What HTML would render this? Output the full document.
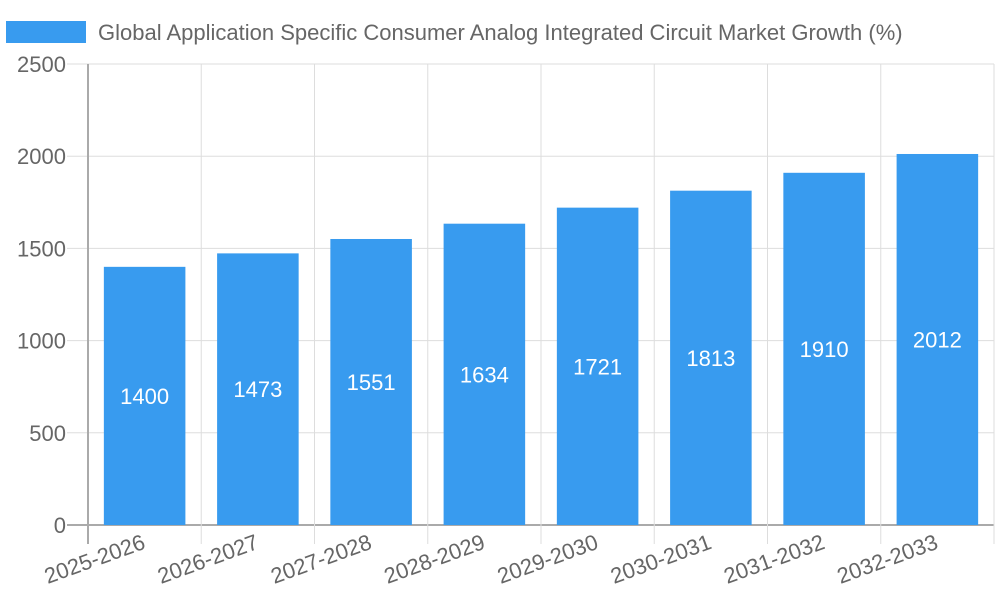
<!DOCTYPE html>
<html><head><meta charset="utf-8"><style>body{margin:0;background:#fff}svg{font-family:"Liberation Sans",sans-serif}</style></head>
<body>
<svg id="c" width="1000" height="600">
<rect x="6" y="21" width="80" height="22" fill="#389bef"/>
<text x="98" y="40" font-size="22" fill="#666">Global Application Specific Consumer Analog Integrated Circuit Market Growth (%)</text>
<g id="grid"></g><g id="bars"></g>
</svg>
<script>
const categories=["2025-2026","2026-2027","2027-2028","2028-2029","2029-2030","2030-2031","2031-2032","2032-2033"];
const values=[1400,1473,1551,1634,1721,1813,1910,2012];
const yTicks=[0,500,1000,1500,2000,2500];
const L=88,R=994,T=64,B=525,yMax=2500;
const step=(R-L)/categories.length;
const y=v=>B-(v/yMax)*(B-T);
const x=i=>L+i*step;
const ns="http://www.w3.org/2000/svg";
const g=document.getElementById('grid'),gb=document.getElementById('bars');
function mk(p,t,a){const e=document.createElementNS(ns,t);for(const k in a)e.setAttribute(k,a[k]);p.appendChild(e);return e;}
yTicks.forEach(v=>{
 const l=mk(g,'line',{x1:67,x2:R,y1:y(v),y2:y(v),stroke:v===0?'#aaa':'#ddd','stroke-width':v===0?2:1});
 
 
 const t=mk(g,'text',{x:66,y:y(v)+8,'text-anchor':'end','font-size':22,fill:'#666'});t.textContent=v;
 
 
});
for(let i=0;i<=categories.length;i++){
 const l=mk(g,'line',{x1:x(i),x2:x(i),y1:T,y2:544,stroke:i===0?'#aaa':'#ddd','stroke-width':i===0?2:1});
 
 
}
categories.forEach((c,i)=>{
 const cx=x(i)+step/2,bw=step*0.72;
 const r=mk(gb,'rect',{x:cx-bw/2,y:y(values[i]),width:bw,height:B-y(values[i]),fill:'#389bef'});
 
 
 const v=mk(gb,'text',{x:cx,y:(y(values[i])+B)/2+8,'text-anchor':'middle','font-size':22,fill:'#fff'});v.textContent=values[i];
 
 
 const t=mk(gb,'text',{x:cx+2,y:548,'text-anchor':'end','font-size':22,fill:'#666',transform:`rotate(-20 ${cx+2} 548)`});t.textContent=c;
 
 
});
</script>
</body></html>
